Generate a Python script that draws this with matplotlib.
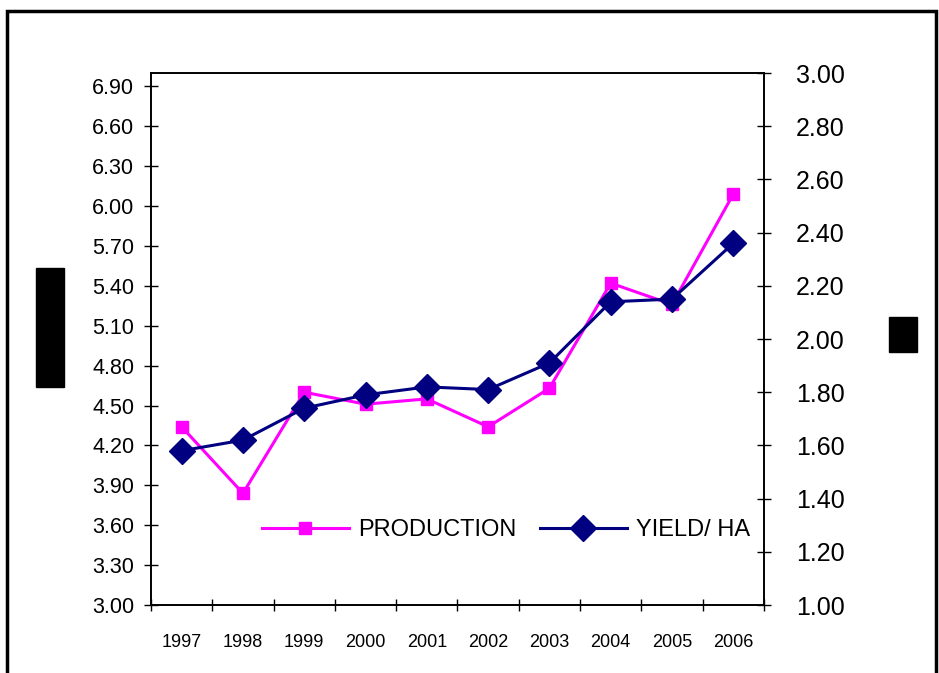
import matplotlib
matplotlib.use('Agg')
import matplotlib.pyplot as plt
from matplotlib.patches import Rectangle

plt.rcParams['font.family'] = ['Liberation Sans', 'DejaVu Sans']

years = ['1997', '1998', '1999', '2000', '2001', '2002', '2003', '2004', '2005', '2006']
production = [4.34, 3.84, 4.60, 4.51, 4.55, 4.34, 4.63, 5.42, 5.26, 6.09]
yield_ha = [1.58, 1.62, 1.74, 1.79, 1.82, 1.81, 1.91, 2.14, 2.15, 2.36]
left_ticks = [3.00, 3.30, 3.60, 3.90, 4.20, 4.50, 4.80, 5.10, 5.40, 5.70, 6.00, 6.30, 6.60, 6.90]
right_ticks = [1.00, 1.20, 1.40, 1.60, 1.80, 2.00, 2.20, 2.40, 2.60, 2.80, 3.00]

fig = plt.figure(figsize=(9.39, 6.73), dpi=100)
ax = fig.add_axes([0.1608, 0.101, 0.6528, 0.7905])
ax2 = ax.twinx()

x = list(range(len(years)))
l1, = ax.plot(x, production, color='#FF00FF', lw=2.2, marker='s', ms=9,
              label='PRODUCTION', zorder=3)
l2, = ax2.plot(x, yield_ha, color='#000080', lw=2.2, marker='D', ms=13,
               label='YIELD/ HA', zorder=4)

ax.set_xlim(-0.5, len(years) - 0.5)
ax.set_ylim(3.0, 7.0)
ax2.set_ylim(1.0, 3.0)

# category boundaries as ticks, labels at the centres
ax.set_xticks([i - 0.5 for i in range(len(years) + 1)])
ax.set_xticklabels([])
ax.set_xticks(x, minor=True)
ax.set_xticklabels(years, minor=True, fontsize=13)
ax.tick_params(axis='x', which='major', direction='inout', length=9, width=1)
ax.tick_params(axis='x', which='minor', length=0, pad=21)

ax.set_yticks(left_ticks)
ax.set_yticklabels([f'{v:.2f}' for v in left_ticks], fontsize=15.5)
ax.tick_params(axis='y', direction='inout', length=10, width=1, pad=7)

ax2.set_yticks(right_ticks)
ax2.set_yticklabels([f'{v:.2f}' for v in right_ticks], fontsize=18)
ax2.tick_params(axis='y', direction='inout', length=10, width=1, pad=18)

for a in (ax, ax2):
    for s in a.spines.values():
        s.set_linewidth(1.2)
        s.set_color('black')

ax2.legend(handles=[l1, l2], loc='center', bbox_to_anchor=(0.579, 0.141),
           ncol=2, frameon=False, fontsize=17, handlelength=3.7,
           columnspacing=1.0, handletextpad=0.38)

# outer frame and blacked-out axis titles
fig.add_artist(Rectangle((7 / 939, -0.1), 929 / 939, 1.1 - 11 / 673,
                         transform=fig.transFigure, fill=False,
                         edgecolor='black', lw=2.5))
fig.add_artist(Rectangle((36 / 939, 1 - 387 / 673), 28 / 939, 119 / 673,
                         transform=fig.transFigure, color='black'))
fig.add_artist(Rectangle((889 / 939, 1 - 352 / 673), 28 / 939, 35 / 673,
                         transform=fig.transFigure, color='black'))

fig.savefig('out.png', dpi=100)
